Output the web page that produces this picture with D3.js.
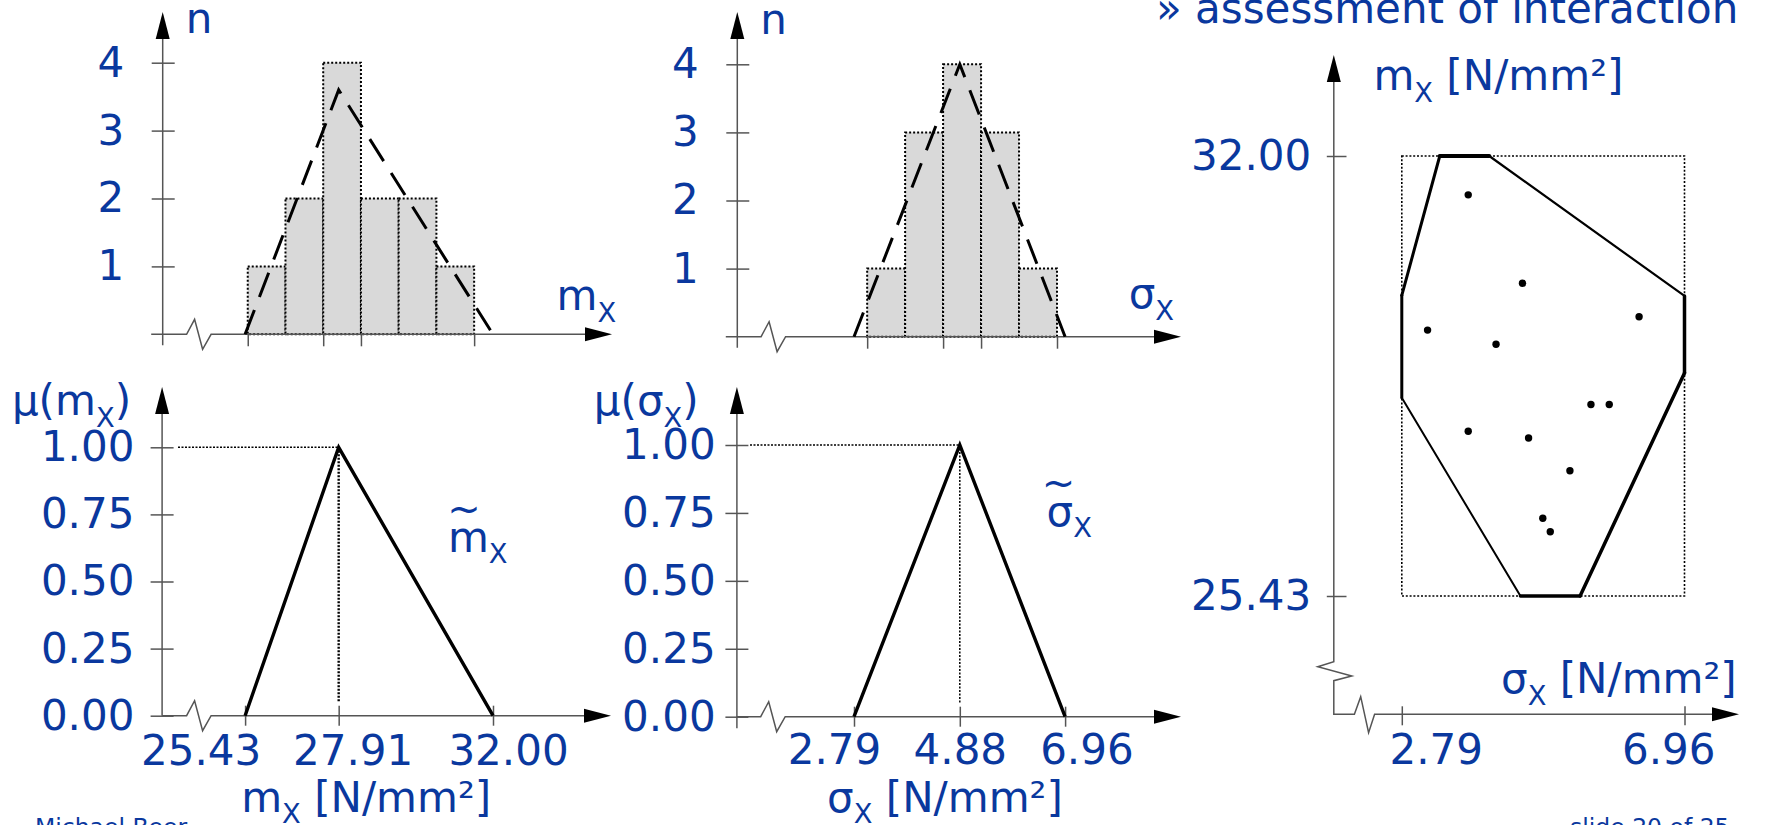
<!DOCTYPE html>
<html>
<head>
<meta charset="utf-8">
<script src="https://cdn.jsdelivr.net/npm/d3@7"></script>
<style>
  html, body { margin: 0; padding: 0; background: #fff; }
  svg { display: block; }
  text { white-space: pre; }
</style>
</head>
<body>
<svg id="chart" width="1767" height="825"></svg>
<script>
// ---------------- data ----------------
// histogram of sample means m_X
const mxBinEdges = [25.5, 26.5, 27.5, 28.5, 29.5, 30.5, 31.5];
const mxCounts   = [1, 2, 4, 2, 2, 1];
const mxHistTicks = [25.5, 27.5, 28.5, 31.5];
// histogram of sample standard deviations sigma_X
const sxBinEdges = [3.05, 3.80, 4.55, 5.30, 6.05, 6.80];
const sxCounts   = [1, 3, 4, 3, 1];
const sxHistTicks = [3.05, 4.55, 5.30, 6.80];
const countTicks = [1, 2, 3, 4];
// triangular fuzzy numbers: left support, mode, right support
const mxFuzzy = [25.43, 27.91, 32.00];
const sxFuzzy = [2.79, 4.88, 6.96];
// heights of the dashed triangles over the histograms
const mxHistPeak = 3.6;
const sxHistPeak = 4.0;
const muTicks = [0, 0.25, 0.5, 0.75, 1];
// (sigma_X, m_X) pairs of the samples
const sampleSigma = [3.77, 4.57, 3.17, 4.18, 6.29, 5.58, 5.85, 3.77, 4.66, 5.27, 4.87, 4.98];
const sampleMean  = [31.42, 30.10, 29.40, 29.19, 29.60, 28.29, 28.29, 27.89, 27.79, 27.30, 26.59, 26.39];
// hull of the interaction region
const hullSigma = [3.35, 4.08, 6.96, 6.96, 5.42, 4.54, 2.79, 2.79];
const hullMean  = [32.00, 32.00, 29.91, 28.76, 25.43, 25.43, 28.39, 29.92];
const scatterSigmaTicks = [2.79, 6.96];
const scatterMeanTicks  = [25.43, 32.00];

// ---------------- style ----------------
const FONT = "'DejaVu Sans', Verdana, sans-serif";
const BLUE = "#0a389e";
const AXIS = "#555";
const FS = 42, SUBR = 0.65, SUBDY = 11.5;
const ARROW_LEN = 27, ARROW_HW = 7;
const hullStroke = [4, 2.2, 3.5, 3.5, 3.5, 2, 3, 3];

const svg = d3.select("#chart");
const fmt2 = d3.format(".2f");

function rich(g, x, y, parts, opts = {}) {
  const size = opts.size || FS;
  const t = g.append("text")
    .attr("x", x).attr("y", y)
    .attr("text-anchor", opts.anchor || "start")
    .attr("font-family", FONT)
    .attr("font-size", size)
    .attr("fill", BLUE);
  let inSub = false;
  parts.forEach(p => {
    const isSub = Array.isArray(p);
    const ts = t.append("tspan").text(isSub ? p[0] : p);
    if (isSub) { ts.attr("font-size", size * SUBR).attr("dy", SUBDY); inSub = true; }
    else if (inSub) { ts.attr("dy", -SUBDY); inSub = false; }
  });
  return t;
}

// symbol with a wide tilde set above it (fuzzy quantity)
function fuzzyLabel(g, x, y, base, tildeDx) {
  const t = rich(g, x, y, [base, ["X"]]);
  t.append("tspan").text("~")
    .attr("x", x + tildeDx).attr("y", y - 29)
    .attr("text-anchor", "middle").attr("font-size", 40);
}

function arrow(g, x, y, dir) {
  const pts = dir === "up"
    ? [[x, y], [x - ARROW_HW, y + ARROW_LEN], [x + ARROW_HW, y + ARROW_LEN]]
    : [[x, y], [x - ARROW_LEN, y - ARROW_HW], [x - ARROW_LEN, y + ARROW_HW]];
  g.append("path").attr("d", "M" + pts.join("L") + "Z").attr("fill", "#000");
}

const line = d3.line();
function polyline(g, pts, w = 1.5, color = AXIS) {
  g.append("path").attr("d", line(pts)).attr("fill", "none")
    .attr("stroke", color).attr("stroke-width", w).attr("stroke-linejoin", "miter");
}

// horizontal axis with a break symbol, ending in an arrow
function xAxisLine(g, x0, x1tip, y, zx) {
  const zig = [[zx, y], [zx + 8, y - 15], [zx + 16, y + 15], [zx + 24.5, y]];
  polyline(g, [[x0, y], ...zig, [x1tip - ARROW_LEN + 1, y]]);
  arrow(g, x1tip, y, "right");
}
function yAxisLine(g, x, y0, ytip) {
  polyline(g, [[x, y0], [x, ytip + ARROW_LEN - 1]]);
  arrow(g, x, ytip, "up");
}

function styleLeftAxis(ag, inner, outer, labelOff) {
  ag.select(".domain").remove();
  ag.attr("font-family", FONT).attr("font-size", FS);
  ag.selectAll(".tick line").attr("x1", inner).attr("x2", -outer)
    .attr("stroke", AXIS).attr("stroke-width", 1.5);
  ag.selectAll(".tick text").attr("fill", BLUE).attr("x", -labelOff);
}
function styleBottomAxis(ag, above, below, baseline, dxs) {
  ag.select(".domain").remove();
  ag.attr("font-family", FONT).attr("font-size", FS);
  ag.selectAll(".tick line").attr("y1", -above).attr("y2", below)
    .attr("stroke", AXIS).attr("stroke-width", 1.5);
  ag.selectAll(".tick text").attr("fill", BLUE).attr("dy", null)
    .attr("y", baseline).attr("x", (d, i) => dxs ? dxs[i] : 0);
}

// ---------------- histogram panels ----------------
function histogram(cfg) {
  const g = svg.append("g");
  const x = d3.scaleLinear().domain([cfg.fuzzy[0], cfg.fuzzy[2]]).range(cfg.xRange);
  const y = d3.scaleLinear().domain([0, 4]).range(cfg.yRange);
  const bins = cfg.counts.map((c, i) => ({ x0: cfg.edges[i], x1: cfg.edges[i + 1], n: c }));

  g.selectAll("rect.bar").data(bins).join("rect").attr("class", "bar")
    .attr("x", d => x(d.x0)).attr("width", d => x(d.x1) - x(d.x0))
    .attr("y", d => y(d.n)).attr("height", d => y(0) - y(d.n))
    .attr("fill", "#d9d9d9").attr("stroke", "#000")
    .attr("stroke-width", 2).attr("stroke-dasharray", "2,2");

  xAxisLine(g, cfg.axisX - 11.5, cfg.xTip, y(0), cfg.zigX);
  yAxisLine(g, cfg.axisX, y(0) + 11, cfg.yTip);

  const ya = g.append("g").attr("transform", `translate(${cfg.axisX},0)`)
    .call(d3.axisLeft(y).tickValues(countTicks).tickFormat(d3.format("d")));
  styleLeftAxis(ya, 12, 11, cfg.yLabelOff);

  const xa = g.append("g").attr("transform", `translate(0,${y(0)})`)
    .call(d3.axisBottom(x).tickValues(cfg.ticks).tickFormat(""));
  styleBottomAxis(xa, 0, 12, 0);

  const tri = [[cfg.fuzzy[0], 0], [cfg.fuzzy[1], cfg.peak], [cfg.fuzzy[2], 0]];
  g.append("path").attr("d", d3.line().x(d => x(d[0])).y(d => y(d[1]))(tri))
    .attr("fill", "none").attr("stroke", "#000").attr("stroke-width", 3)
    .attr("stroke-dasharray", "26,14");

  rich(g, cfg.axisX + 23, cfg.nY, ["n"]);
  rich(g, cfg.varX, cfg.varY, cfg.varLabel);
}

histogram({
  fuzzy: mxFuzzy, xRange: [245.1, 493], yRange: [334.3, 62.7],
  edges: mxBinEdges, counts: mxCounts, ticks: mxHistTicks, peak: mxHistPeak,
  axisX: 162.7, xTip: 612, yTip: 12, zigX: 186.6, yLabelOff: 38.4,
  nY: 33, varX: 556.6, varY: 310, varLabel: ["m", ["X"]]
});
histogram({
  fuzzy: sxFuzzy, xRange: [854, 1065.1], yRange: [336.7, 64.3],
  edges: sxBinEdges, counts: sxCounts, ticks: sxHistTicks, peak: sxHistPeak,
  axisX: 737.3, xTip: 1181, yTip: 12, zigX: 761.1, yLabelOff: 38.7,
  nY: 34, varX: 1128.7, varY: 308, varLabel: ["σ", ["X"]]
});

// ---------------- membership panels ----------------
function membership(cfg) {
  const g = svg.append("g");
  const x = d3.scaleLinear().domain([cfg.fuzzy[0], cfg.fuzzy[2]]).range(cfg.xRange);
  const y = d3.scaleLinear().domain([0, 1]).range(cfg.yRange);

  xAxisLine(g, cfg.axisX, cfg.xTip, y(0), cfg.zigX);
  yAxisLine(g, cfg.axisX, y(0) + cfg.yBelow, cfg.yTip);

  const ya = g.append("g").attr("transform", `translate(${cfg.axisX},0)`)
    .call(d3.axisLeft(y).tickValues(muTicks).tickFormat(fmt2));
  styleLeftAxis(ya, 11.5, 11.5, cfg.yLabelOff);

  const xa = g.append("g").attr("transform", `translate(0,${y(0)})`)
    .call(d3.axisBottom(x).tickValues(cfg.fuzzy).tickFormat(fmt2));
  styleBottomAxis(xa, 10, 10, cfg.tickBaseline, cfg.tickDx);

  // dotted guides to the mode
  const m = cfg.fuzzy[1];
  g.append("path").attr("d", line([[cfg.guideX0, y(1)], [x(m), y(1)]]))
    .attr("stroke", "#000").attr("stroke-width", 1.6).attr("stroke-dasharray", "2,1.5");
  g.append("path").attr("d", line([[x(m), y(1)], [x(m), y(0) - 13]]))
    .attr("stroke", "#000").attr("stroke-width", cfg.vGuideW).attr("stroke-dasharray", "2,1.5");

  const tri = [[cfg.fuzzy[0], 0], [cfg.fuzzy[1], 1], [cfg.fuzzy[2], 0]];
  g.append("path").attr("d", d3.line().x(d => x(d[0])).y(d => y(d[1]))(tri))
    .attr("fill", "none").attr("stroke", "#000").attr("stroke-width", 3.4)
    .attr("stroke-linejoin", "miter");

  rich(g, cfg.muX, 415, cfg.muLabel);
  fuzzyLabel(g, cfg.fzX, cfg.fzY, cfg.fzBase, cfg.tildeDx);
  rich(g, cfg.unitX, 811.5, cfg.unitLabel);
}

membership({
  fuzzy: mxFuzzy, xRange: [245.1, 493], yRange: [715.7, 447.3],
  axisX: 162.1, xTip: 611, yTip: 387, zigX: 186.6, yBelow: 0, yLabelOff: 27.7,
  tickBaseline: 48.9, tickDx: [-44.5, 14, 15], guideX0: 178, vGuideW: 2.4,
  muX: 11.9, muLabel: ["μ(m", ["X"], ")"],
  fzX: 447.9, fzY: 551.5, fzBase: "m", tildeDx: 16,
  unitX: 241.2, unitLabel: ["m", ["X"], " [N/mm²]"]
});
membership({
  fuzzy: sxFuzzy, xRange: [854, 1065.1], yRange: [716.7, 445],
  axisX: 736.9, xTip: 1181, yTip: 387, zigX: 760.7, yBelow: 11.5, yLabelOff: 21.3,
  tickBaseline: 47.5, tickDx: [-20, 0, 21.3], guideX0: 750, vGuideW: 1.5,
  muX: 593.8, muLabel: ["μ(σ", ["X"], ")"],
  fzX: 1046.5, fzY: 525.5, fzBase: "σ", tildeDx: 12,
  unitX: 827.1, unitLabel: ["σ", ["X"], " [N/mm²]"]
});

// ---------------- interaction panel ----------------
(function () {
  const g = svg.append("g");
  const x = d3.scaleLinear().domain(scatterSigmaTicks).range([1401.8, 1684.5]);
  const y = d3.scaleLinear().domain(scatterMeanTicks).range([596, 156]);
  const ax = 1333.8, ay = 714.3, tipX = 1739, tipY = 55;

  // axes with break symbols
  polyline(g, [[ax, tipY + ARROW_LEN - 1], [ax, 661.7], [ax - 16, 666.7], [ax + 18, 676], [ax, 680.7], [ax, ay],
               [1354.4, ay], [1360.7, 696.7], [1368.6, 732.7], [1374.6, ay], [tipX - ARROW_LEN + 1, ay]]);
  arrow(g, ax, tipY, "up");
  arrow(g, tipX, ay, "right");

  const ya = g.append("g").attr("transform", `translate(${ax},0)`)
    .call(d3.axisLeft(y).tickValues(scatterMeanTicks).tickFormat(fmt2));
  styleLeftAxis(ya, 12.7, 7, 22.5);

  const xa = g.append("g").attr("transform", `translate(0,${ay})`)
    .call(d3.axisBottom(x).tickValues(scatterSigmaTicks).tickFormat(fmt2));
  styleBottomAxis(xa, 8, 11, 50, [33.9, -16.2]);

  // bounding box of the fuzzy supports
  g.append("rect")
    .attr("x", x(sxFuzzy[0])).attr("width", x(sxFuzzy[2]) - x(sxFuzzy[0]))
    .attr("y", y(mxFuzzy[2])).attr("height", y(mxFuzzy[0]) - y(mxFuzzy[2]))
    .attr("fill", "none").attr("stroke", "#000").attr("stroke-width", 1.6)
    .attr("stroke-dasharray", "2,1.8");

  // hull edges
  const hull = hullSigma.map((s, i) => [x(s), y(hullMean[i])]);
  const edges = hull.map((p, i) => [p, hull[(i + 1) % hull.length]]);
  g.selectAll("path.hull").data(edges).join("path").attr("class", "hull")
    .attr("d", d => line(d)).attr("fill", "none").attr("stroke", "#000")
    .attr("stroke-width", (d, i) => hullStroke[i]).attr("stroke-linecap", "round");

  // samples
  g.selectAll("circle.pt").data(sampleSigma.map((s, i) => [s, sampleMean[i]])).join("circle")
    .attr("class", "pt").attr("cx", d => x(d[0])).attr("cy", d => y(d[1]))
    .attr("r", 3.7).attr("fill", "#000");

  rich(g, 1373.4, 90, ["m", ["X"], " [N/mm²]"]);
  rich(g, 1501, 693.3, ["σ", ["X"], " [N/mm²]"]);
})();

// ---------------- slide text ----------------
rich(svg, 1156, 23, ["» assessment of interaction"]);
rich(svg, 35, 835, ["Michael Beer"], { size: 23.5 });
rich(svg, 1570, 835, ["slide 20 of 25"], { size: 23.5 });
</script>
</body>
</html>
